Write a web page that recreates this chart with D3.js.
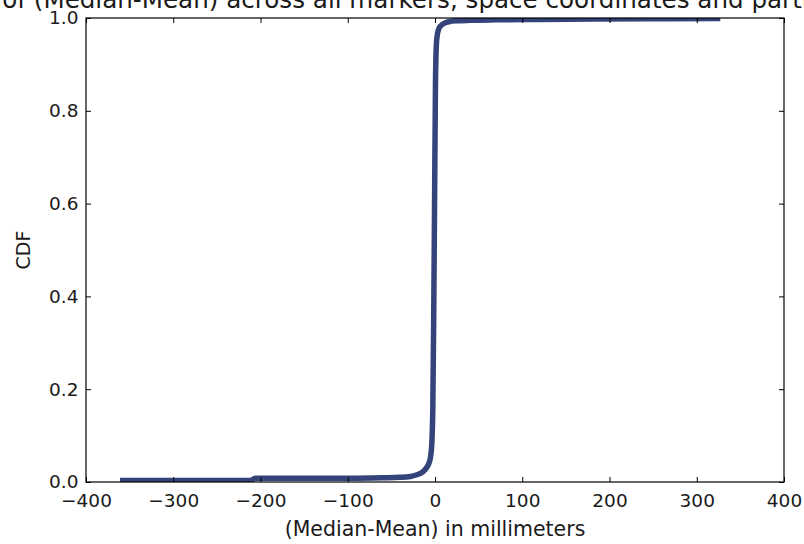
<!DOCTYPE html>
<html>
<head>
<meta charset="utf-8">
<script src="https://cdn.jsdelivr.net/npm/d3@7"></script>
<style>
  html, body { margin: 0; padding: 0; background: #fff; }
  svg { display: block; }
  text { font-family: "DejaVu Sans", sans-serif; fill: #1a1a1a; }
</style>
</head>
<body>
<svg id="chart" width="804" height="544"></svg>
<script>
// Empirical CDF of (Median - Mean), in millimetres
const diffMm = [-361, -300, -212, -206, -150, -100, -60, -40, -28, -20, -14, -10, -7, -5, -3.5, -2.5, -1.5, -0.5, 0.5, 1.5, 2.5, 4, 7, 11, 16, 25, 40, 70, 120, 185, 250, 327];
const cdfVal = [0.003, 0.003, 0.003, 0.008, 0.008, 0.008, 0.009, 0.010, 0.012, 0.016, 0.022, 0.030, 0.040, 0.055, 0.09, 0.16, 0.35, 0.60, 0.85, 0.94, 0.962, 0.975, 0.984, 0.989, 0.992, 0.994, 0.995, 0.996, 0.997, 0.998, 0.9985, 0.999];

const xTicks = [-400, -300, -200, -100, 0, 100, 200, 300, 400];
const yTicks = [0.0, 0.2, 0.4, 0.6, 0.8, 1.0];

const titleText = "CDF of (Median-Mean) across all markers, space coordinates and participants";
const xLabel = "(Median-Mean) in millimeters";
const yLabel = "CDF";

const svg = d3.select("#chart");
const m = { left: 86, right: 784, top: 18, bottom: 482 };

const x = d3.scaleLinear().domain([-400, 400]).range([m.left, m.right]);
const y = d3.scaleLinear().domain([0, 1]).range([m.bottom, m.top]);

svg.append("defs").append("clipPath").attr("id", "plotClip")
  .append("rect")
  .attr("x", m.left).attr("y", m.top)
  .attr("width", m.right - m.left).attr("height", m.bottom - m.top);

// CDF curve
const line = d3.line()
  .x((d, i) => x(diffMm[i]))
  .y(d => y(d))
  .curve(d3.curveMonotoneX);

svg.append("path")
  .attr("clip-path", "url(#plotClip)")
  .attr("d", line(cdfVal))
  .attr("fill", "none")
  .attr("stroke", "#34447a")
  .attr("stroke-width", 5.5)
  .attr("stroke-linejoin", "round")
  .attr("stroke-linecap", "butt");

// Axes with inward ticks on all four sides
const tickLen = 5;
const tickFont = 18.5;
const fmtY = d3.format(".1f");
const fmtX = d => (d < 0 ? "\u2212" + Math.abs(d) : String(d));

svg.append("g").attr("transform", `translate(0,${m.bottom})`)
  .call(d3.axisBottom(x).tickValues(xTicks).tickSizeInner(-tickLen).tickSizeOuter(0).tickPadding(11.5).tickFormat(fmtX))
  .call(g => g.select(".domain").remove());
svg.append("g").attr("transform", `translate(0,${m.top})`)
  .call(d3.axisTop(x).tickValues(xTicks).tickSizeInner(-tickLen).tickSizeOuter(0).tickFormat(""))
  .call(g => g.select(".domain").remove());
svg.append("g").attr("transform", `translate(${m.left},0)`)
  .call(d3.axisLeft(y).tickValues(yTicks).tickSizeInner(-tickLen).tickSizeOuter(0).tickPadding(7.5).tickFormat(fmtY))
  .call(g => g.select(".domain").remove());
svg.append("g").attr("transform", `translate(${m.right},0)`)
  .call(d3.axisRight(y).tickValues(yTicks).tickSizeInner(-tickLen).tickSizeOuter(0).tickFormat(""))
  .call(g => g.select(".domain").remove());

svg.selectAll(".tick line").attr("stroke", "#000").attr("stroke-width", 1);
svg.selectAll(".tick text")
  .attr("font-family", "DejaVu Sans, sans-serif")
  .attr("font-size", tickFont)
  .attr("fill", "#1a1a1a");

// Frame
svg.append("rect")
  .attr("x", m.left).attr("y", m.top)
  .attr("width", m.right - m.left).attr("height", m.bottom - m.top)
  .attr("fill", "none").attr("stroke", "#000").attr("stroke-width", 1.2);

// Labels
svg.append("text")
  .attr("x", 421).attr("y", 8)
  .attr("text-anchor", "middle")
  .attr("font-size", 24.6)
  .text(titleText);

svg.append("text")
  .attr("x", (m.left + m.right) / 2).attr("y", 536)
  .attr("text-anchor", "middle")
  .attr("font-size", 20.5)
  .text(xLabel);

svg.append("text")
  .attr("transform", `translate(30,${(m.top + m.bottom) / 2}) rotate(-90)`)
  .attr("text-anchor", "middle")
  .attr("font-size", 19)
  .text(yLabel);
</script>
</body>
</html>
